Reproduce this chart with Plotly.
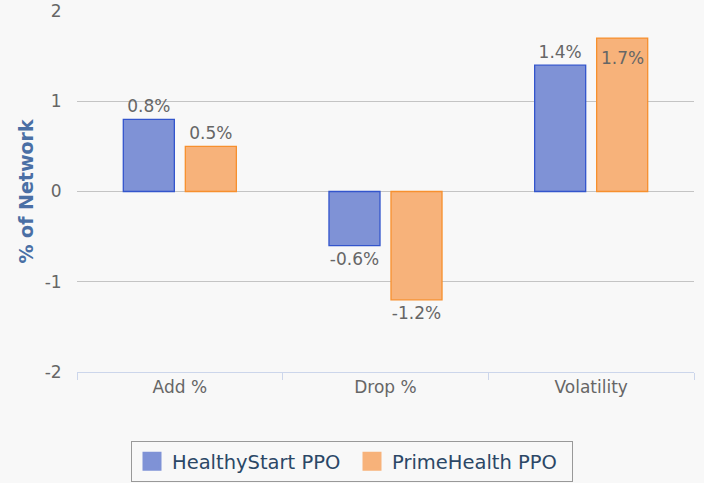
import plotly.graph_objects as go

categories = ["Add %", "Drop %", "Volatility"]
healthy_vals = [0.8, -0.6, 1.4]
prime_vals = [0.5, -1.2, 1.7]
healthy_labels = ["0.8%", "-0.6%", "1.4%"]
prime_labels = ["0.5%", "-1.2%", "1.7%"]
series_names = ["HealthyStart PPO", "PrimeHealth PPO"]
y_ticks = [-2, -1, 0, 1, 2]
y_tick_text = ["-2", "-1", "0", "1", "2"]

FONT = "DejaVu Sans, sans-serif"
LABEL_SIZE = 17
BLUE_FILL, BLUE_LINE = "#7f92d6", "#3355cc"
ORANGE_FILL, ORANGE_LINE = "#f7b27a", "#f7902e"

fig = go.Figure()
fig.add_trace(go.Bar(
    name=series_names[0], x=categories, y=healthy_vals,
    text=healthy_labels, textposition="outside",
    marker=dict(color=BLUE_FILL, line=dict(color=BLUE_LINE, width=1.3)),
    textfont=dict(color="#666666", size=LABEL_SIZE, family=FONT),
    cliponaxis=False, hoverinfo="skip", showlegend=False,
))
# last orange label is drawn inside the bar top (as an annotation below)
fig.add_trace(go.Bar(
    name=series_names[1], x=categories, y=prime_vals,
    text=prime_labels[:2] + [""], textposition="outside",
    marker=dict(color=ORANGE_FILL, line=dict(color=ORANGE_LINE, width=1.3)),
    textfont=dict(color="#666666", size=LABEL_SIZE, family=FONT),
    cliponaxis=False, hoverinfo="skip", showlegend=False,
))
fig.add_annotation(
    x=categories[2], y=prime_vals[2], text=prime_labels[2],
    xref="x", yref="y", showarrow=False, xshift=31, yshift=-20,
    font=dict(color="#666666", size=LABEL_SIZE, family=FONT),
)
# legend entries
for nm, fill in zip(series_names, [BLUE_FILL, ORANGE_FILL]):
    fig.add_trace(go.Scatter(
        name=nm, x=[None], y=[None], mode="markers",
        marker=dict(symbol="square", size=16, color=fill, line=dict(width=3, color=fill)),
        hoverinfo="skip", showlegend=True,
    ))

fig.update_layout(
    width=704, height=483,
    margin=dict(l=77, r=10, t=11, b=111, autoexpand=False),
    paper_bgcolor="#f8f8f8", plot_bgcolor="#f8f8f8",
    font=dict(family=FONT, color="#666666", size=16),
    barmode="group", bargap=0.397, bargroupgap=0.177,
    showlegend=True,
    legend=dict(
        orientation="h", xref="container", x=0.5, xanchor="center",
        yref="container", y=0.002, yanchor="bottom",
        bordercolor="#999999", borderwidth=1, bgcolor="#f8f8f8",
        font=dict(size=19.5, color="#2b4766", family=FONT),
        itemsizing="trace", itemwidth=30, entrywidth=175,
    ),
)
fig.update_xaxes(
    type="category", showgrid=False, showline=True, linecolor="#ccd6eb", linewidth=1,
    ticks="outside", tickson="boundaries", ticklen=7, tickcolor="#ccd6eb",
    tickfont=dict(size=17, color="#666666"), zeroline=False, automargin=False,
)
fig.update_yaxes(
    range=[-2, 2], tickvals=y_ticks, ticktext=y_tick_text,
    showgrid=True, gridcolor="#c4c4c4", gridwidth=1,
    zeroline=True, zerolinecolor="#c4c4c4", zerolinewidth=1,
    tickfont=dict(size=17, color="#666666"),
    ticks="outside", ticklen=11, tickcolor="rgba(0,0,0,0)", showline=False,
    automargin=False,
    title=dict(text="<b>% of Network</b>", font=dict(size=19, color="#4a6fa5"), standoff=5),
)

fig.write_html(
    "out.html",
    config={"displayModeBar": False},
    post_script="document.body.style.margin='0';document.body.style.background='#f8f8f8';",
)
